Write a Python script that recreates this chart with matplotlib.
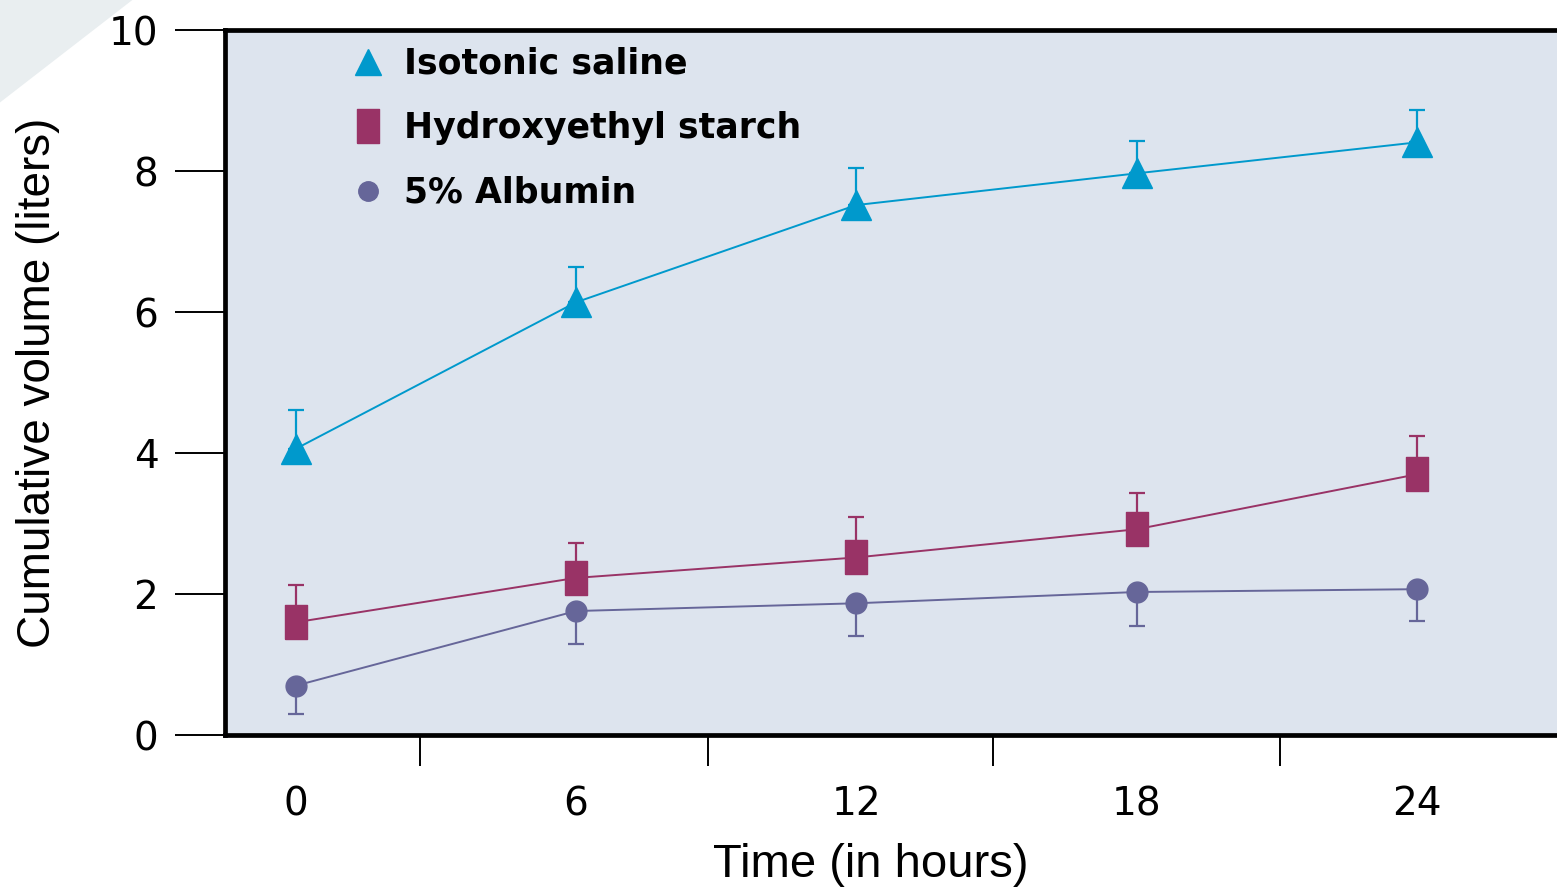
import matplotlib
matplotlib.use("Agg")
import matplotlib.pyplot as plt
from matplotlib.lines import Line2D
from matplotlib.patches import Polygon

# data
hours = [0, 6, 12, 18, 24]
saline = [4.06, 6.14, 7.52, 7.97, 8.41]
saline_err = [0.55, 0.50, 0.52, 0.46, 0.46]
starch = [1.60, 2.23, 2.52, 2.92, 3.70]
starch_err = [0.53, 0.49, 0.57, 0.51, 0.54]
albumin = [0.70, 1.76, 1.87, 2.03, 2.07]
albumin_err = [0.40, 0.47, 0.47, 0.48, 0.45]

labels = ["Isotonic saline", "Hydroxyethyl starch", "5% Albumin"]
col_saline = "#0099cc"
col_starch = "#993366"
col_albumin = "#666699"
bg = "#dde4ee"

plt.rcParams['font.family'] = ['DejaVu Sans']

fig = plt.figure(figsize=(15.57, 8.91), dpi=100)
ax = fig.add_axes([0.1445, 0.175, 0.885, 0.791])
ax.set_facecolor(bg)

# faint dithered corner in the scan
fig.patches.append(Polygon([(0, 1), (0.085, 1), (0, 0.885)], closed=True,
                           transform=fig.transFigure, facecolor="#e9eef0",
                           edgecolor="none", zorder=0))

rect = [(-0.33, -0.5), (0.33, -0.5), (0.33, 0.5), (-0.33, 0.5), (-0.33, -0.5)]
kw = dict(lw=1.4, elinewidth=1.6, capsize=6, capthick=1.6)

ax.errorbar(hours, saline, yerr=[[0] * 5, saline_err], color=col_saline,
            marker="^", ms=22, **kw)
ax.errorbar(hours, starch, yerr=[[0] * 5, starch_err], color=col_starch,
            marker=rect, ms=25, **kw)
ax.errorbar(hours, albumin, yerr=[albumin_err, [0] * 5], color=col_albumin,
            marker="o", ms=15, **kw)

ax.set_xlim(-1.51, 27.98)
ax.set_ylim(0, 10)

ax.set_yticks([0, 2, 4, 6, 8, 10])
ax.tick_params(axis="y", direction="out", length=36, width=1.4, pad=12,
               labelsize=28)
ax.set_xticks(hours)
ax.set_xticks([2.66, 8.83, 14.92, 21.07], minor=True)
ax.tick_params(axis="x", which="major", length=0, pad=36, labelsize=28)
ax.tick_params(axis="x", which="minor", direction="out", length=22, width=1.4)

for side in ["left", "bottom", "top"]:
    ax.spines[side].set_linewidth(3.4)
ax.spines["right"].set_visible(False)

ax.set_ylabel("Cumulative volume (liters)", fontsize=33,
              family=["Liberation Sans", "DejaVu Sans"])
ax.yaxis.set_label_coords(-0.12, 0.5)
ax.set_xlabel("Time (in hours)", fontsize=34,
              family=["Liberation Sans", "DejaVu Sans"])
ax.xaxis.set_label_coords(0.469, -0.153)

handles = [
    Line2D([], [], ls="none", marker="^", ms=19, color=col_saline),
    Line2D([], [], ls="none", marker=rect, ms=24, color=col_starch),
    Line2D([], [], ls="none", marker="o", ms=14, color=col_albumin),
]
ax.legend(handles, labels, loc="upper left", bbox_to_anchor=(0.071, 1.021),
          frameon=False, prop={"size": 25, "weight": "bold"},
          handlelength=0.8, handletextpad=0.65, labelspacing=0.88)

fig.savefig("out.png", dpi=100)
